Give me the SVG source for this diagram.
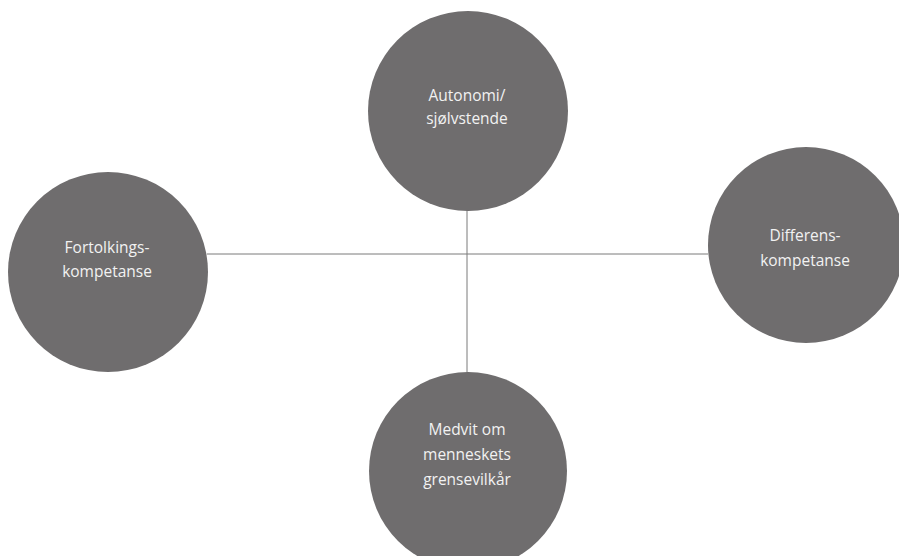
<svg xmlns="http://www.w3.org/2000/svg" width="899" height="556" viewBox="0 0 899 556">
<style>
.node{fill:#6f6d6e;}
.lbl{fill:#f2f2f2;font-family:"Open Sans","Noto Sans",sans-serif;font-size:15.5px;text-anchor:middle;}
.conn{stroke:#7a7a7a;stroke-width:1;fill:none;}
</style>
<rect width="899" height="556" fill="#ffffff"/>
<g id="connectors">
<line class="conn" x1="207" y1="254" x2="708" y2="254"/>
<line class="conn" x1="467" y1="210" x2="467" y2="374"/>
</g>
<g id="autonomi">
<circle class="node" cx="468" cy="111" r="100"/>
<text class="lbl" x="467" y="101">Autonomi/</text>
<text class="lbl" x="467" y="124">sjølvstende</text>
</g>
<g id="fortolking">
<circle class="node" cx="108" cy="272" r="100"/>
<text class="lbl" x="107" y="253">Fortolkings-</text>
<text class="lbl" x="107" y="277">kompetanse</text>
</g>
<g id="differens">
<circle class="node" cx="806" cy="245" r="98"/>
<text class="lbl" x="805" y="241">Differens-</text>
<text class="lbl" x="805" y="266">kompetanse</text>
</g>
<g id="medvit">
<circle class="node" cx="468" cy="471" r="99"/>
<text class="lbl" x="467" y="435">Medvit om</text>
<text class="lbl" x="467" y="460">menneskets</text>
<text class="lbl" x="467" y="485">grensevilkår</text>
</g>
</svg>
